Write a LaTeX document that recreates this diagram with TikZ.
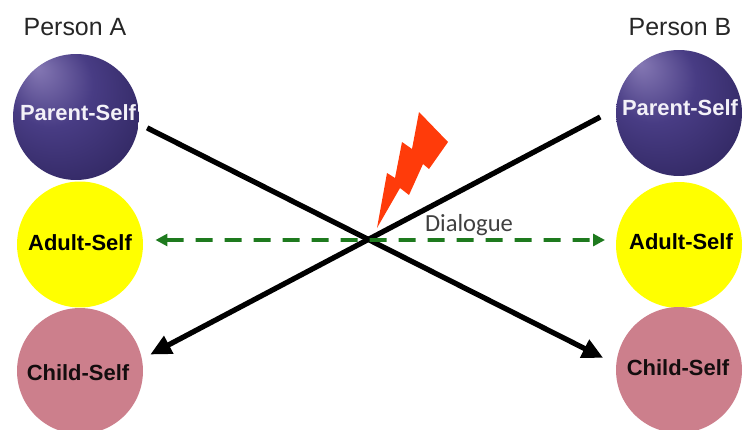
\documentclass[tikz,border=0pt]{standalone}
\usepackage{fontspec}
\setmainfont{Liberation Sans}
\newfontfamily\dialoguefont{Carlito}
\usepackage{xcolor}
\usepackage{tikz}
\usetikzlibrary{arrows.meta}

\definecolor{parentdark}{HTML}{2B2259}
\definecolor{parentmid}{HTML}{483C84}
\definecolor{parentlight}{HTML}{8578B4}
\definecolor{adultyellow}{HTML}{FFFF00}
\definecolor{childpink}{HTML}{CC7F8C}
\definecolor{dialoguegreen}{HTML}{1E7A1E}
\definecolor{boltred}{HTML}{FF3B0A}

\pgfdeclareradialshading{parentball}{\pgfpoint{-0.55cm}{0.7cm}}{
  color(0cm)=(parentlight);
  color(0.6cm)=(parentmid);
  color(1.45cm)=(parentdark);
  color(1.76cm)=(parentdark)
}

\tikzset{
  self/.style={circle, minimum size=2.52cm, inner sep=0pt, outer sep=0pt},
  selftext/.style={font=\bfseries\fontsize{12.5}{14}\selectfont},
  parentself/.style={self, shading=parentball},
  adultself/.style={self, fill=adultyellow},
  childself/.style={self, fill=childpink},
  person/.style={font=\fontsize{14.2}{16}\selectfont, text=black!85},
  cross/.style={line width=3pt, -{Triangle[length=0.42cm, width=0.38cm]}},
  dialogue/.style={dialoguegreen, line width=2.2pt, dash pattern=on 0.34cm off 0.24cm, {Triangle[length=0.24cm, width=0.24cm]}-{Triangle[length=0.24cm, width=0.24cm]}}
}

\begin{document}
\begin{tikzpicture}[x=0.02cm, y=-0.02cm]
  \useasboundingbox (0, 0) rectangle (746, 429);

  % Person A
  \node[person] (personA) at (75, 27) {Person A};
  \node[parentself, label={[selftext, text=white!90!parentlight, xshift=0.04cm, yshift=0.08cm]center:Parent-Self}] (parentA) at (76, 117) {};
  \node[adultself, label={[selftext, yshift=0.04cm]center:Adult-Self}] (adultA) at (80, 244.5) {};
  \node[childself, label={[selftext, text=black!90!childpink, xshift=-0.04cm, yshift=-0.04cm]center:Child-Self}] (childA) at (80, 371) {};

  % Person B
  \node[person] (personB) at (680, 27) {Person B};
  \node[parentself, label={[selftext, text=white!90!parentlight, xshift=0.02cm, yshift=0.1cm]center:Parent-Self}] (parentB) at (679, 113) {};
  \node[adultself, label={[selftext, xshift=0.04cm, yshift=0.06cm]center:Adult-Self}] (adultB) at (679, 245) {};
  \node[childself, label={[selftext, text=black!90!childpink, xshift=-0.02cm, yshift=0.04cm]center:Child-Self}] (childB) at (679, 370) {};

  % Crossed transactions
  \draw[cross, shorten <=0.19cm, shorten >=0.29cm] (parentA.-6.5) -- (childB.175);
  \draw[cross, shorten <=0.36cm, shorten >=0.19cm] (parentB.176.9) -- (childA.11.5);

  % Dialogue line
  \draw[dialogue, shorten <=0.25cm, shorten >=0.22cm] ([yshift=0.09cm]adultA.east) -- ([yshift=0.1cm]adultB.west);
  \node[font=\dialoguefont\fontsize{14}{16}\selectfont, text=black!75] (dialogueLabel) at (469, 225) {Dialogue};

  % Lightning bolt
  \fill[boltred] (377, 228) -- (387, 173) -- (395, 178) -- (402, 142) -- (412, 149) -- (419, 112)
    -- (448, 142) -- (429, 169) -- (423, 164) -- (409, 195) -- (400, 188) -- cycle;
\end{tikzpicture}
\end{document}
